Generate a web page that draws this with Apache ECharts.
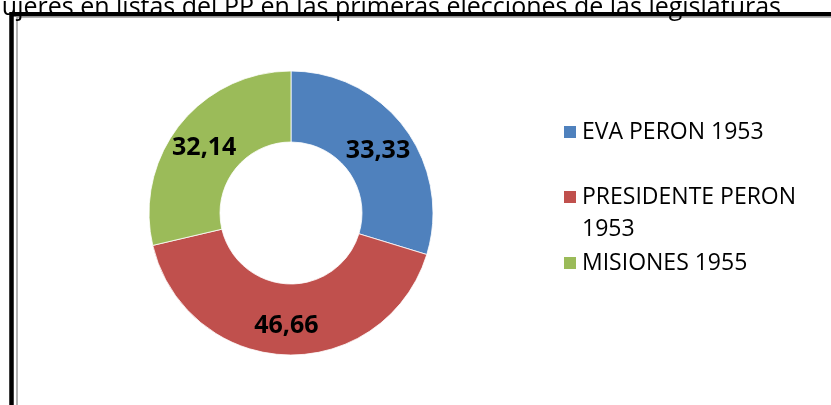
<!DOCTYPE html>
<html>
<head>
<meta charset="utf-8">
<script src="https://cdn.jsdelivr.net/npm/echarts@6/dist/echarts.min.js"></script>
<style>
    html, body { margin: 0; padding: 0; background: #fff; }
    #echarts { width: 831px; height: 405px; }
</style>
</head>
<body>
<div id="echarts"></div>
<script>
var titleText = 'Mujeres en listas del PP en las primeras elecciones de las legislaturas';
var categories = ['EVA PERON 1953', 'PRESIDENTE PERON 1953', 'MISIONES 1955'];
var values = [33.33, 46.66, 32.14];
var colors = ['#4F81BD', '#C0504D', '#9BBB59'];
var legendTops = [116, 149, 247];

var font = 'Open Sans';

var myChart = echarts.init(document.getElementById('echarts'));

// one legend per item so the wrapped one can keep its key on the first line
var legends = categories.map(function (name, i) {
    return {
        orient: 'vertical',
        left: 562,
        top: legendTops[i],
        padding: 0,
        icon: 'rect',
        itemWidth: 14,
        itemHeight: 14,
        selectedMode: false,
        data: [name],
        formatter: function (n) {
            return n.length > 18 ? '\n' + n : n;
        },
        textStyle: {
            fontFamily: font,
            fontSize: 23,
            lineHeight: 32,
            color: '#000',
            width: 240,
            overflow: 'break'
        }
    };
});

var option = {
    animation: false,
    color: colors,
    title: {
        text: titleText,
        right: 50,
        top: -5,
        padding: 0,
        textStyle: {
            fontFamily: font,
            fontSize: 25,
            fontWeight: 'normal',
            color: '#000'
        }
    },
    graphic: [
        {
            type: 'rect',
            z: -10,
            shape: {x: 11.5, y: 14.3, width: 900, height: 500},
            style: {fill: null, stroke: '#000', lineWidth: 4.5}
        },
        {
            type: 'rect',
            z: -10,
            shape: {x: 17, y: 17, width: 900, height: 500},
            style: {fill: null, stroke: '#9a9a9a', lineWidth: 1.5}
        }
    ],
    legend: legends,
    series: [
        {
            type: 'pie',
            center: [291, 213],
            radius: [71, 142],
            startAngle: 90,
            clockwise: true,
            avoidLabelOverlap: false,
            itemStyle: {
                borderColor: '#fff',
                borderWidth: 0.8
            },
            label: {
                show: true,
                position: 'inside',
                offset: [-1, 3],
                fontFamily: font,
                fontSize: 25,
                fontWeight: 'bold',
                color: '#000',
                formatter: function (p) {
                    return p.value.toFixed(2).replace('.', ',');
                }
            },
            labelLine: {show: false},
            emphasis: {scale: false},
            data: categories.map(function (name, i) {
                return {name: name, value: values[i]};
            })
        }
    ]
};

myChart.setOption(option);
</script>
</body>
</html>
